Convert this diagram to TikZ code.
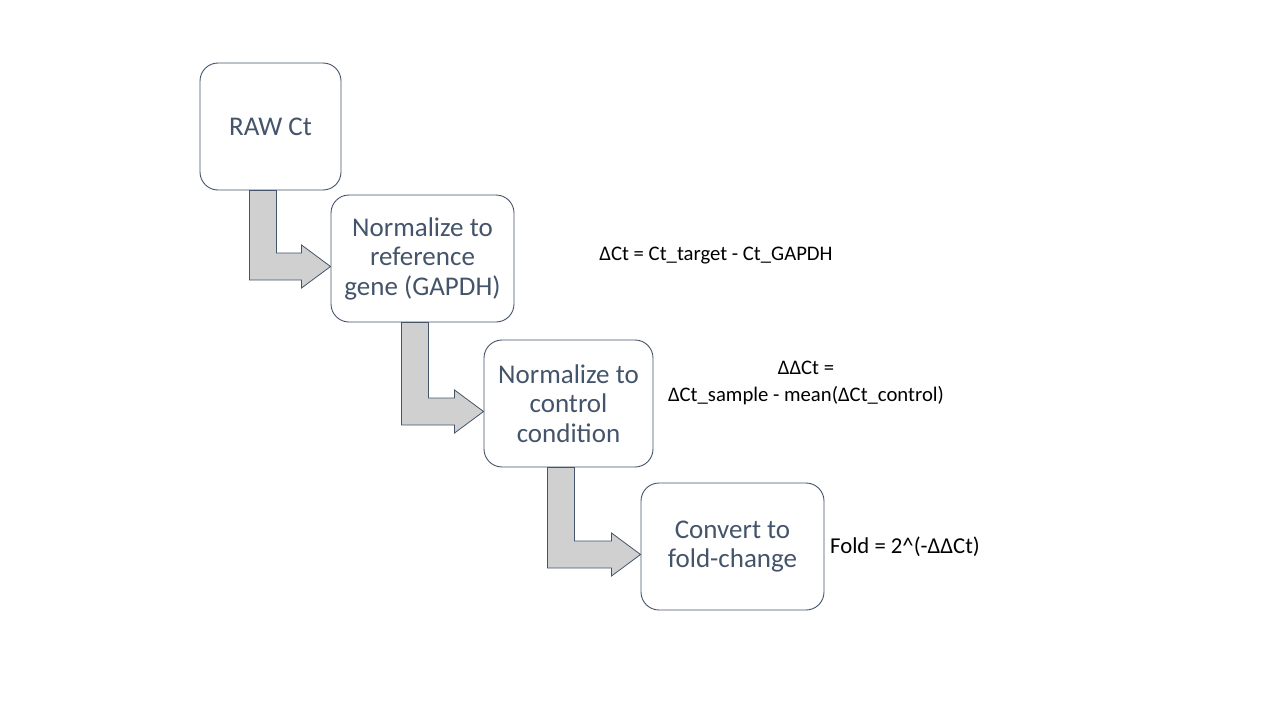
\documentclass[tikz,border=0pt]{standalone}
\usepackage{fontspec}
\setmainfont{Carlito}
\usetikzlibrary{calc}
\definecolor{slate}{HTML}{44546A}
\definecolor{arrowfill}{HTML}{D0D0D0}
\tikzset{
  stepbox/.style={draw=slate, line width=0.9pt, rounded corners=18pt, fill=white,
    text=slate, align=center, inner sep=0pt, minimum height=127pt,
    font=\fontsize{27}{29.5}\selectfont},
  bentarrow/.style={draw=slate, line width=0.8pt, fill=arrowfill, line join=miter},
  formula/.style={text=black, inner sep=0pt, font=\fontsize{20.7}{27}\selectfont, align=center}
}
\begin{document}
\begin{tikzpicture}[x=1pt,y=-1pt]
\useasboundingbox (0,0) rectangle (1280,720);
\node[stepbox, minimum width=141pt] (n1) at (270.5,126.5) {RAW Ct};
\node[stepbox, minimum width=183pt] (n2) at (422.5,258.5) {Normalize to\\reference\\gene (GAPDH)};
\node[stepbox, minimum width=169pt] (n3) at (568.5,403.5) {Normalize to\\control\\condition};
\node[stepbox, minimum width=183pt] (n4) at (732.5,546.5) {Convert to\\fold-change};
\foreach \a/\b in {n1/n2,n2/n3,n3/n4}{
  \coordinate (L) at ($(\a.south)+(-21,0)$);
  \coordinate (R) at ($(\a.south)+(6,0)$);
  \coordinate (T) at ($(\b.west)+(0,8)$);
  \coordinate (H) at ($(T)+(-29,0)$);
  \coordinate (Tu) at ($(T)+(0,-13.5)$);
  \coordinate (Td) at ($(T)+(0,13.5)$);
  \coordinate (Hu) at ($(H)+(0,-21.5)$);
  \coordinate (Hd) at ($(H)+(0,21.5)$);
  \draw[bentarrow] (L) -- (R) -- (R |- Tu) -- (H |- Tu) -- (Hu) -- (T) -- (Hd) -- (H |- Td) -- (L |- Td) -- cycle;
}
\node[formula] (f1) at (716,256) {ΔCt = Ct\_target - Ct\_GAPDH};
\node[formula] (f2) at (806,383) {ΔΔCt =\\ΔCt\_sample - mean(ΔCt\_control)};
\node[formula, anchor=west, font=\fontsize{22.7}{27}\selectfont] (f3) at (830,546.5) {Fold = 2\textasciicircum(-ΔΔCt)};
\end{tikzpicture}
\end{document}
